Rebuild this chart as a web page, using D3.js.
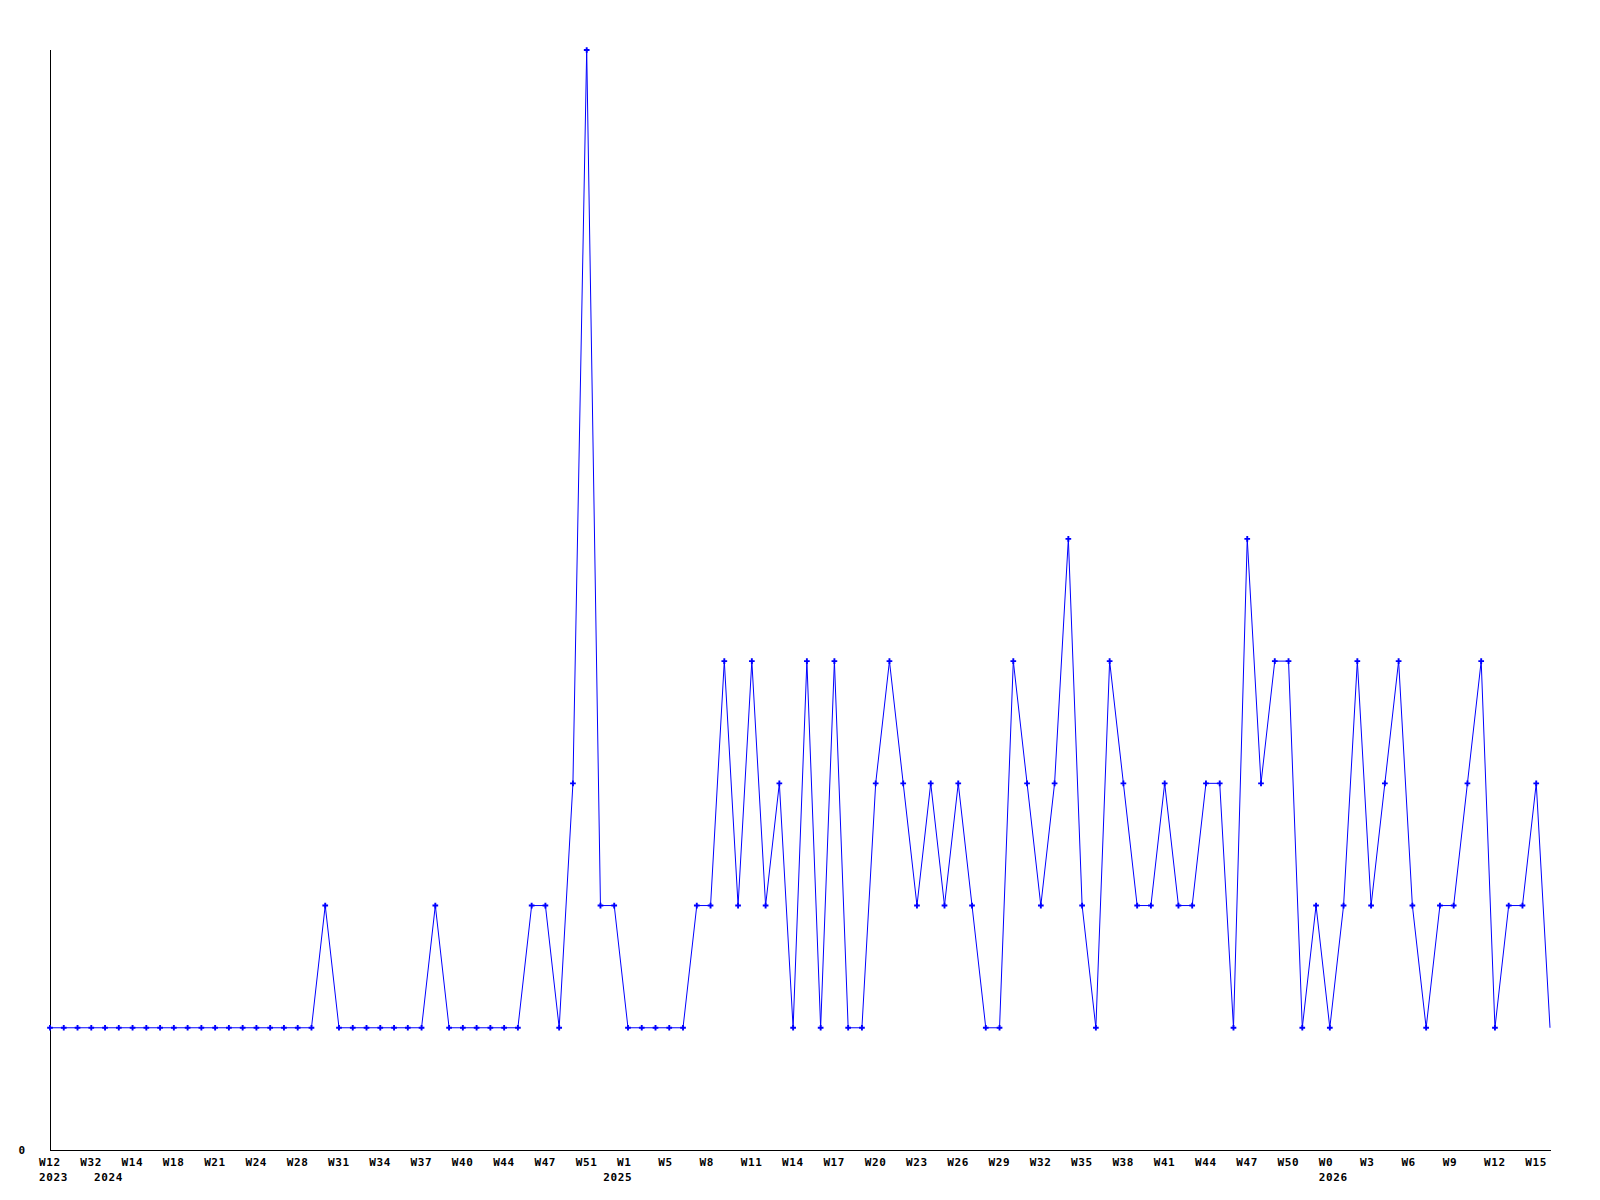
<!DOCTYPE html>
<html>
<head>
<meta charset="utf-8">
<script src="https://cdn.jsdelivr.net/npm/d3@7"></script>
<style>
  body { margin: 0; background: #fff; }
  text { font-family: "DejaVu Sans Mono", monospace; font-size: 11px; font-weight: bold; fill: #000; letter-spacing: 0.6px; }
</style>
</head>
<body>
<div id="chart"></div>
<script>
// weekly counts, one per point
const values = [
  1,1,1,1,1,1,1,1,1,1,1,1,1,1,1,1,1,1,1,1,
  2,1,1,1,1,1,1,1,2,1,1,1,1,1,1,
  2,2,1,3,9,2,2,1,1,1,1,1,2,2,4,2,4,2,3,1,4,1,4,1,1,
  3,4,3,2,3,2,3,2,1,1,4,3,2,3,5,2,1,4,3,2,2,3,2,2,3,3,1,
  5,3,4,4,1,2,1,2,4,2,3,4,2,1,2,2,3,4,1,2,2,3,1
];

// week labels, every third point
const weekLabels = [
  "W12","W32","W14","W18","W21","W24","W28","W31","W34","W37","W40","W44","W47",
  "W51","W1","W5","W8","W11","W14","W17","W20","W23","W26","W29","W32","W35",
  "W38","W41","W44","W47","W50","W0","W3","W6","W9","W12","W15"
];
const labelStep = 3;

// year labels and the point index where they sit
const yearLabels = ["2023", "2024", "2025", "2026"];
const yearIndex = [0, 4, 41, 93];

const width = 1600, height = 1200;
const mLeft = 50, mRight = 1550, mTop = 50, mBottom = 1150;

const svg = d3.select("#chart").append("svg").attr("width", width).attr("height", height);

const x = d3.scalePoint().domain(d3.range(values.length)).range([mLeft, mRight]);
const y = d3.scaleLinear().domain([0, 9]).range([mBottom, mTop]);

// axes (plain lines, no ticks)
svg.append("line").attr("x1", mLeft).attr("x2", mLeft).attr("y1", mTop).attr("y2", mBottom)
  .attr("stroke", "#000").attr("shape-rendering", "crispEdges");
svg.append("line").attr("x1", mLeft).attr("x2", mRight + 1).attr("y1", mBottom).attr("y2", mBottom)
  .attr("stroke", "#000").attr("shape-rendering", "crispEdges");

svg.append("text").attr("x", mLeft - 28).attr("y", y(0)).attr("dy", "0.35em")
  .attr("text-anchor", "middle").text("0");

svg.selectAll(".wk").data(weekLabels).enter().append("text")
  .attr("class", "wk")
  .attr("x", (d, i) => x(i * labelStep) - 11)
  .attr("y", mBottom + 16)
  .text(d => d);

svg.selectAll(".yr").data(yearLabels).enter().append("text")
  .attr("class", "yr")
  .attr("x", (d, i) => x(yearIndex[i]) - 11)
  .attr("y", mBottom + 31)
  .text(d => d);

const line = d3.line().x((d, i) => x(i)).y(d => y(d));
svg.append("path").datum(values).attr("d", line)
  .attr("fill", "none").attr("stroke", "#0000ff").attr("stroke-width", 1);

// small cross markers (none on the last point)
svg.selectAll(".pt").data(values.slice(0, -1)).enter().append("path")
  .attr("class", "pt")
  .attr("transform", (d, i) => `translate(${x(i)},${y(d)})`)
  .attr("d", d3.symbol().type(d3.symbolCross).size(18))
  .attr("fill", "#0000ff");
</script>
</body>
</html>
